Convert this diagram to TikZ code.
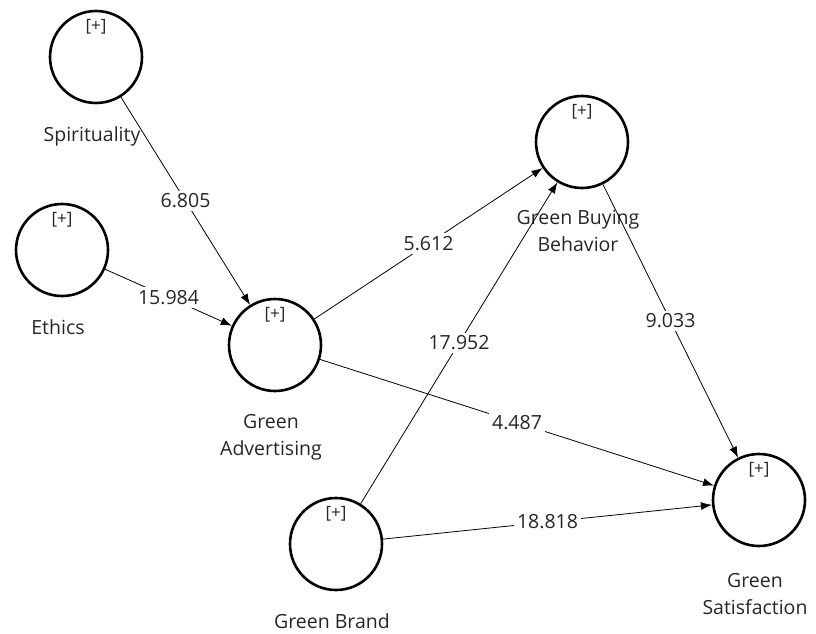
\documentclass[tikz,border=0pt]{standalone}
\usepackage{fontspec}
\setmainfont{Open Sans}
\usetikzlibrary{positioning}
\usetikzlibrary{arrows.meta}

\begin{document}
\begin{tikzpicture}[x=1pt,y=-1pt,
    construct/.style={circle,draw,line width=2.6pt,minimum size=92pt,inner sep=0pt},
    pathcoef/.style={fill=white,inner sep=3pt,text=black!85,font=\fontsize{19.5}{21}\selectfont},
    plussign/.style={text=black!85,font=\fontsize{17}{18}\selectfont},
    lvname/.style={align=center,text=black!85,font=\fontsize{19.5}{27}\selectfont,xshift=-4pt}]
    \useasboundingbox (0,0) rectangle (816,634);

    % Define the constructs
    \node[construct] (sp) at (96,57) {};
    \node[construct] (et) at (62,250) {};
    \node[construct] (ga) at (275,345) {};
    \node[construct] (gbb) at (582,142) {};
    \node[construct] (gb) at (336,544) {};
    \node[construct] (gs) at (759,500) {};

    % Put the [+] on top of each construct
    \foreach \point in {sp,et,ga,gbb,gb,gs}
    \node[plussign] (\point-plus) at ([yshift=30pt]\point.center) {[+]};

    % Names of the constructs
    \node[lvname, below=19pt of sp] (sp-name) {Spirituality};
    \node[lvname, below=19pt of et] (et-name) {Ethics};
    \node[lvname, below=19pt of ga] (ga-name) {Green\\Advertising};
    \node[lvname, below=17pt of gbb] (gbb-name) {Green Buying\\Behavior};
    \node[lvname, below=19pt of gb] (gb-name) {Green Brand};
    \node[lvname, below=23pt of gs] (gs-name) {Green\\Satisfaction};

    % Draw the paths
    \foreach \from/\to/\coef in {sp/ga/6.805, et/ga/15.984, ga/gbb/5.612, gb/gbb/17.952, gbb/gs/9.033, ga/gs/4.487, gb/gs/18.818}
    \draw[-{Latex[length=11pt,width=8pt]}, line width=0.8pt] (\from) -- node[pathcoef] (\from-\to) {\coef} (\to);
\end{tikzpicture}
\end{document}
